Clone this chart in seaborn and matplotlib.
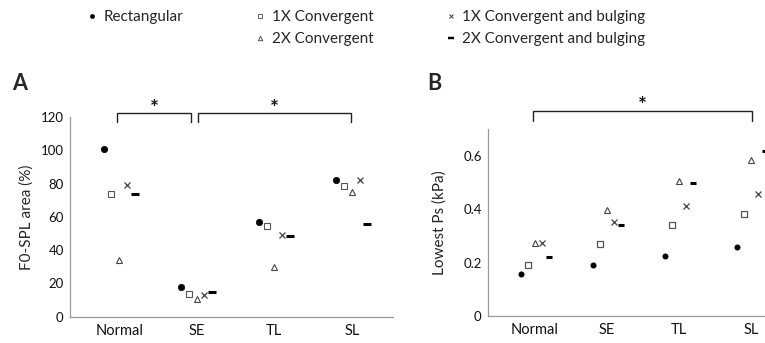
import matplotlib
matplotlib.use("Agg")
import matplotlib.pyplot as plt
from matplotlib.lines import Line2D
from matplotlib.ticker import FuncFormatter
import seaborn as sns
import pandas as pd

# ---------------- data ----------------
categories = ["Normal", "SE", "TL", "SL"]
series = ["Rectangular", "1X Convergent", "2X Convergent",
          "1X Convergent and bulging", "2X Convergent and bulging"]

# Panel A: F0-SPL area (%)
f0_rectangular = [101, 18, 57, 82]
f0_conv1x = [73.5, 13.5, 54.5, 78.5]
f0_conv2x = [34, 10.5, 30, 75]
f0_bulge1x = [79, 13, 49, 82]
f0_bulge2x = [74, 15, 48.5, 56]

# Panel B: Lowest Ps (kPa)
ps_rectangular = [0.156, 0.191, 0.226, 0.257]
ps_conv1x = [0.19, 0.27, 0.34, 0.381]
ps_conv2x = [0.275, 0.397, 0.505, 0.584]
ps_bulge1x = [0.272, 0.352, 0.412, 0.457]
ps_bulge2x = [0.222, 0.34, 0.50, 0.618]

a_yticks = [0, 20, 40, 60, 80, 100, 120]
b_yticks = [0, 0.2, 0.4, 0.6]

# significance brackets: (start category, end category, start offset, end offset)
a_brackets = [("Normal", "SE", -0.03, -0.07), ("SE", "SL", 0.01, -0.01)]
b_brackets = [("Normal", "SL", -0.03, 0.02)]

def long_df(values):
    rows = []
    for s, vals in zip(series, values):
        for c, v in zip(categories, vals):
            rows.append({"condition": c, "shape": s, "value": v})
    return pd.DataFrame(rows)

dfA = long_df([f0_rectangular, f0_conv1x, f0_conv2x, f0_bulge1x, f0_bulge2x])
dfB = long_df([ps_rectangular, ps_conv1x, ps_conv2x, ps_bulge1x, ps_bulge2x])

# ---------------- style ----------------
sns.set_theme(style="white")
plt.rcParams["font.family"] = ["Lato", "DejaVu Sans"]

markers = ["o", "s", "^", "x", "_"]
palette = {series[0]: "#000000", series[1]: "#555555", series[2]: "#444444",
           series[3]: "#444444", series[4]: "#000000"}
face = {series[0]: "#000000", series[1]: "white", series[2]: "white",
        series[3]: "#444444", series[4]: "#000000"}
sizeA = {series[0]: 4.6, series[1]: 4.6, series[2]: 4.6, series[3]: 4.6, series[4]: 5.5}
sizeB = {series[0]: 3.8, series[1]: 4.2, series[2]: 4.0, series[3]: 4.0, series[4]: 5.0}
mewA = {series[0]: 0.5, series[1]: 0.8, series[2]: 0.8, series[3]: 0.9, series[4]: 2.2}
mewB = {series[0]: 0.5, series[1]: 0.9, series[2]: 0.8, series[3]: 0.9, series[4]: 2.2}

spine_col = "#9a9a9a"

fig = plt.figure(figsize=(7.65, 3.43), dpi=100)
axA = fig.add_axes([0.0915, 0.0767, 0.4222, 0.5822])
axB = fig.add_axes([0.6379, 0.0787, 0.3955, 0.5449])


def draw(ax, df, sizes, mews):
    sns.pointplot(data=df, x="condition", y="value", hue="shape",
                  order=categories, hue_order=series, palette=palette,
                  markers=markers, linestyles="none", dodge=0.4,
                  errorbar=None, legend=False, ax=ax)
    for line, s in zip(ax.lines, series):
        line.set_markerfacecolor(face[s])
        line.set_markeredgecolor(palette[s])
        line.set_markersize(sizes[s])
        line.set_markeredgewidth(mews[s])
        line.set_zorder(3)
    for side in ["top", "right"]:
        ax.spines[side].set_visible(False)
    for side in ["left", "bottom"]:
        ax.spines[side].set_color(spine_col)
        ax.spines[side].set_linewidth(0.9)
    ax.tick_params(axis="x", length=0, pad=5, labelsize=10.5, labelcolor="#111111")
    ax.tick_params(axis="y", length=2.5, width=0.8, color=spine_col, pad=2,
                   labelsize=9.5, labelcolor="#111111")
    ax.set_xlabel("")
    ax.grid(False)


draw(axA, dfA, sizeA, mewA)
draw(axB, dfB, sizeB, mewB)

axA.set_xlim(-0.634, 3.53)
axA.set_ylim(0, 120)
axA.set_yticks(a_yticks)
axA.set_ylabel("F0-SPL area (%)", fontsize=11)
axA.yaxis.set_label_coords(-0.112, 0.5)

axB.set_xlim(-0.653, 3.55)
axB.set_ylim(0, 0.7)
axB.set_yticks(b_yticks)
axB.yaxis.set_major_formatter(FuncFormatter(lambda v, p: "0" if v == 0 else f"{v:.1f}"))
axB.set_ylabel("Lowest Ps (kPa)", fontsize=11)
axB.yaxis.set_label_coords(-0.135, 0.5)


def bracket(ax, c0, c1, o0, o1, top, leg, star_gap):
    x0 = categories.index(c0) + o0
    x1 = categories.index(c1) + o1
    ax.plot([x0, x0, x1, x1], [top - leg, top, top, top - leg], color="#222222",
            lw=1.0, clip_on=False, solid_joinstyle="miter")
    ax.text((x0 + x1) / 2, top + star_gap, "*", ha="center", va="center",
            fontsize=15, fontweight="bold", color="#111111", clip_on=False)


for c0, c1, o0, o1 in a_brackets:
    bracket(axA, c0, c1, o0, o1, 122.6, 5.6, 2.0)
for c0, c1, o0, o1 in b_brackets:
    bracket(axB, c0, c1, o0, o1, 0.769, 0.038, 0.018)

# panel letters
fig.text(0.0157, 0.758, "A", fontsize=15.5, fontweight="bold", va="center", ha="left")
fig.text(0.558, 0.758, "B", fontsize=15.5, fontweight="bold", va="center", ha="left")

# legend
handles = []
legend_sizes = {series[0]: 3.0, series[1]: 3.2, series[2]: 3.2, series[3]: 3.2, series[4]: 3.8}
for s, m in zip(series, markers):
    handles.append(Line2D([], [], linestyle="none", marker=m, markersize=legend_sizes[s],
                          markerfacecolor=face[s], markeredgecolor=palette[s],
                          markeredgewidth=mewA[s] * 0.8))
blank = Line2D([], [], linestyle="none")
leg_handles = [handles[0], blank, handles[1], handles[2], handles[3], handles[4]]
leg_labels = [series[0], "", series[1], series[2], series[3], series[4]]
fig.legend(leg_handles, leg_labels, ncol=3, loc="upper left",
           bbox_to_anchor=(87.5 / 765, 1 - 10 / 343), frameon=False,
           borderaxespad=0, borderpad=0, handlelength=0.6, handletextpad=0.45,
           columnspacing=4.75, labelspacing=0.52, fontsize=11)

fig.savefig("out.png", dpi=100)
